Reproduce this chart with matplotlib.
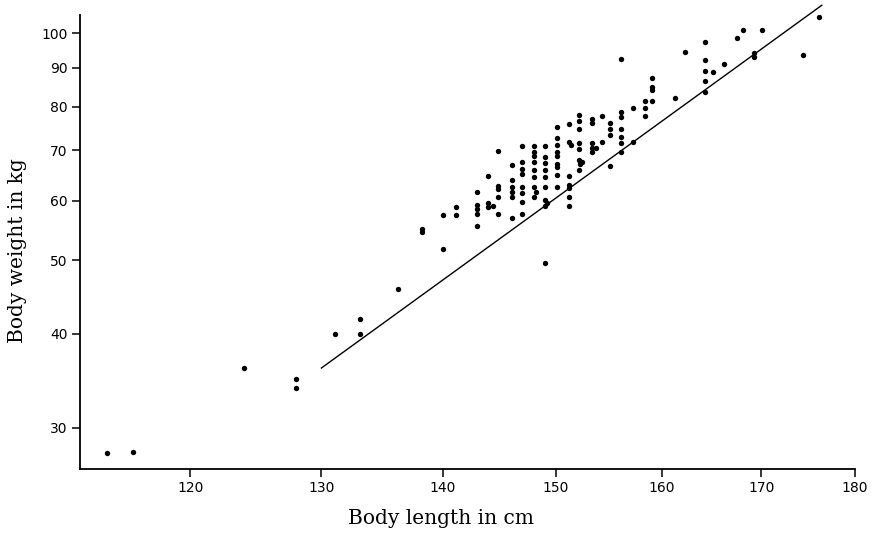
import matplotlib
matplotlib.use("Agg")
import matplotlib.pyplot as plt
from matplotlib.ticker import FixedLocator, FixedFormatter, NullLocator

# Body length (cm) and body weight (kg)
length_cm = [
    114.1, 115.9, 124.0, 128.0, 128.0, 131.1, 133.1, 133.1, 136.2, 149.0,
    138.2, 138.2, 140.0, 140.0, 141.1, 141.1,
    142.9, 142.9, 142.9, 142.9, 142.9,
    143.9, 143.9, 143.9, 144.3,
    144.8, 144.8, 144.8, 144.8, 144.8,
    146.0, 146.0, 146.0, 146.0, 146.0, 146.0,
    146.9, 146.9, 146.9, 146.9, 146.9, 146.9, 146.9, 146.9,
    148.0, 148.0, 148.0, 148.0, 148.0, 148.0, 148.0, 148.2, 148.0,
    149.0, 149.0, 149.0, 149.0, 149.0, 149.0, 149.0, 149.2, 149.0,
    150.1, 150.1, 150.1, 150.1, 150.1, 150.1, 150.1, 150.1, 150.1,
    151.2, 151.2, 151.4, 151.2, 151.2, 151.2, 151.2, 151.2,
    152.1, 152.1, 152.1, 152.1, 152.1, 152.1, 152.2, 152.4, 152.1,
    153.3, 153.3, 153.3, 153.3, 153.3, 153.7,
    154.3, 154.3,
    155.0, 155.0, 155.0, 155.0,
    156.1, 156.1, 156.1, 156.1, 156.1, 156.1, 156.1,
    157.2, 157.2,
    158.4, 158.4, 158.4,
    159.0, 159.0, 159.0, 159.0,
    161.3, 162.3,
    164.3, 164.3, 164.3, 164.3, 164.3,
    165.1, 166.2, 167.5, 168.1, 169.3, 169.3, 170.1, 174.4, 176.1,
]
weight_kg = [
    27.8, 27.9, 36.0, 34.8, 33.9, 39.9, 41.8, 39.9, 45.8, 49.6,
    55.0, 54.5, 51.7, 57.5, 58.9, 57.5,
    61.7, 59.2, 58.5, 57.7, 55.6,
    64.7, 59.5, 58.9, 59.0,
    69.8, 62.7, 62.1, 60.6, 57.7,
    66.9, 64.0, 62.6, 61.7, 60.6, 57.0,
    70.96, 67.6, 66.2, 65.2, 62.6, 61.4, 59.8, 57.6,
    70.96, 69.7, 68.8, 67.6, 66.0, 64.5, 62.6, 61.7, 60.7,
    70.96, 68.6, 67.3, 66.0, 64.5, 62.5, 60.1, 59.6, 59.0,
    75.1, 72.6, 71.1, 69.7, 68.8, 67.2, 66.6, 64.9, 62.5,
    75.8, 71.8, 71.1, 64.7, 62.9, 62.3, 60.7, 59.0,
    77.9, 76.6, 74.7, 71.5, 70.2, 67.9, 67.2, 67.6, 66.0,
    76.9, 76.0, 71.5, 70.4, 69.7, 70.4,
    77.7, 71.7,
    76.0, 74.8, 73.3, 66.7,
    92.4, 78.7, 77.5, 74.8, 72.9, 71.5, 69.7,
    79.7, 71.8,
    81.4, 79.7, 77.7,
    87.3, 85.0, 84.1, 81.3,
    82.2, 94.5,
    97.5, 92.1, 89.2, 86.6, 83.7,
    88.9, 91.1, 98.5, 101.1, 94.25, 93.1, 101.0, 93.5, 105.0,
]

# Fitted line end points
line_x = [130.0, 176.4]
line_y = [36.0, 109.0]

x_ticks = [120, 130, 140, 150, 160, 170, 180]
y_ticks = [30, 40, 50, 60, 70, 80, 90, 100]

fig = plt.figure(figsize=(8.71, 5.35), dpi=100)
ax = fig.add_axes([0.0918, 0.1234, 0.8898, 0.8486])

ax.scatter(length_cm, weight_kg, s=15, color="black", linewidths=0, zorder=3)
ax.plot(line_x, line_y, color="black", linewidth=1.0, clip_on=False)

ax.set_xscale("log")
ax.set_yscale("log")
ax.set_xlim(112.2, 180)
ax.set_ylim(26.45, 105.8)

ax.xaxis.set_major_locator(FixedLocator(x_ticks))
ax.xaxis.set_major_formatter(FixedFormatter([str(v) for v in x_ticks]))
ax.xaxis.set_minor_locator(NullLocator())
ax.yaxis.set_major_locator(FixedLocator(y_ticks))
ax.yaxis.set_major_formatter(FixedFormatter([str(v) for v in y_ticks]))
ax.yaxis.set_minor_locator(NullLocator())

for side in ("top", "right"):
    ax.spines[side].set_visible(False)
for side in ("left", "bottom"):
    ax.spines[side].set_linewidth(1.3)

ax.tick_params(axis="both", direction="out", length=6, width=1.1,
               labelsize=10, pad=3, colors="black")
for lab in ax.get_xticklabels() + ax.get_yticklabels():
    lab.set_family("DejaVu Sans")

ax.set_xlabel("Body length in cm", family="DejaVu Serif", fontsize=14.5)
ax.set_ylabel("Body weight in kg", family="DejaVu Serif", fontsize=14.5)
ax.xaxis.set_label_coords(0.466, -0.088)
ax.yaxis.set_label_coords(-0.068, 0.48)

fig.savefig("out.png", dpi=100)
